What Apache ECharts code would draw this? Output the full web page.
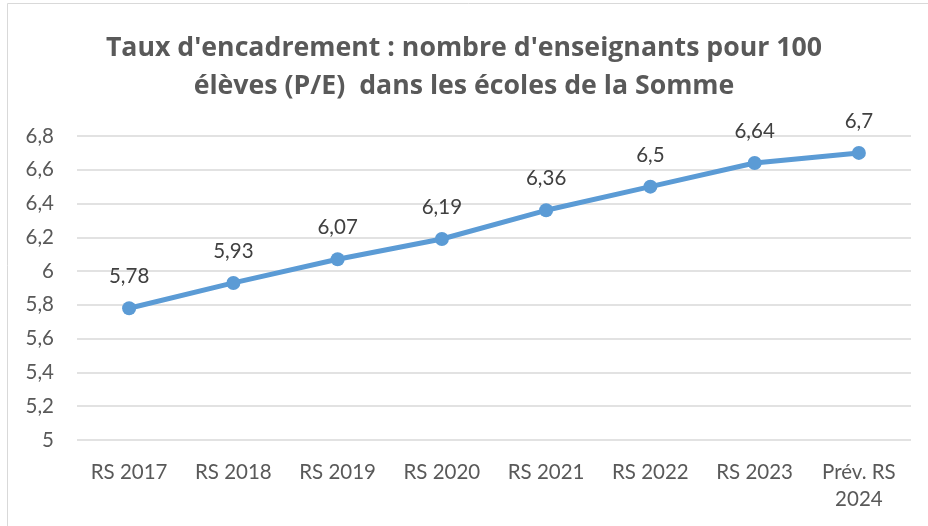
<!DOCTYPE html>
<html><head><meta charset="utf-8">
<script src="https://cdn.jsdelivr.net/npm/echarts@6/dist/echarts.min.js"></script>
<style>html,body{margin:0;padding:0;background:#fff}#c{width:928px;height:526px}</style>
</head><body><div id="c"></div>
<script>
const categories = ['RS 2017','RS 2018','RS 2019','RS 2020','RS 2021','RS 2022','RS 2023','Prév. RS\n2024'];
const values = [5.78, 5.93, 6.07, 6.19, 6.36, 6.5, 6.64, 6.7];
const titleText = "Taux d'encadrement : nombre d'enseignants pour 100\nélèves (P/E)  dans les écoles de la Somme";
const fmt = v => String(v).replace('.', ',');
const chart = echarts.init(document.getElementById('c'));
const F = 'Lato, "Open Sans", sans-serif';
const FT = '"Open Sans", Lato, sans-serif';
chart.setOption({
  animation:false,
  graphic:[{type:'rect',shape:{x:7.5,y:3.5,width:940,height:540},style:{fill:'none',stroke:'#d9d9d9',lineWidth:1}}],
  title:{text:titleText,left:'center',top:24,textStyle:{fontFamily:FT,fontWeight:'bold',fontSize:26.7,color:'#595959',lineHeight:38}},
  grid:{left:77,right:17,top:136,bottom:86},
  xAxis:{type:'category',data:categories,boundaryGap:true,
    axisLine:{show:false},axisTick:{show:false},
    axisLabel:{fontFamily:F,fontSize:20.5,color:'#595959',margin:19,lineHeight:27,interval:0}},
  yAxis:{type:'value',min:5,max:6.8,interval:0.2,
    axisLine:{show:false},axisTick:{show:false},
    splitLine:{lineStyle:{color:'#d9d9d9',width:1.5}},
    axisLabel:{fontFamily:F,fontSize:20.5,color:'#595959',margin:23,formatter:v=>fmt(Math.round(v*10)/10)}},
  series:[{type:'line',data:values,symbol:'circle',symbolSize:14,
    lineStyle:{color:'#5b9bd5',width:5},itemStyle:{color:'#5b9bd5'},
    label:{show:true,position:'top',distance:14,fontFamily:F,fontSize:20.5,color:'#404040',formatter:p=>fmt(p.value)}}]
});
</script></body></html>
